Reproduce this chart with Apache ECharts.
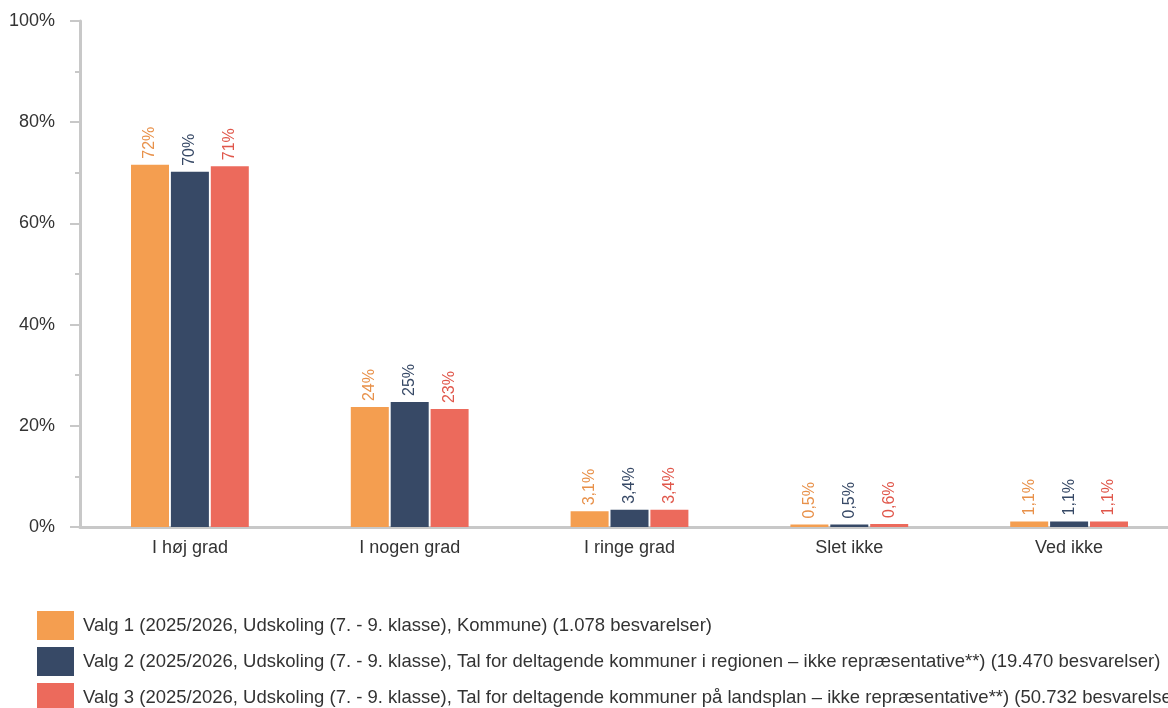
<!DOCTYPE html>
<html>
<head>
<meta charset="utf-8">
<script src="https://cdn.jsdelivr.net/npm/echarts@6/dist/echarts.min.js"></script>
<style>
  html, body { margin: 0; padding: 0; background: #fff; }
  #chart { width: 1168px; height: 708px; }
</style>
</head>
<body>
<div id="chart"></div>
<script>
// categories and series
const categories = ['I høj grad', 'I nogen grad', 'I ringe grad', 'Slet ikke', 'Ved ikke']
const seriesNames = [
  'Valg 1 (2025/2026, Udskoling (7. - 9. klasse), Kommune) (1.078 besvarelser)',
  'Valg 2 (2025/2026, Udskoling (7. - 9. klasse), Tal for deltagende kommuner i regionen – ikke repræsentative**) (19.470 besvarelser)',
  'Valg 3 (2025/2026, Udskoling (7. - 9. klasse), Tal for deltagende kommuner på landsplan – ikke repræsentative**) (50.732 besvarelser)'
]
const valg1 = [71.6, 23.7, 3.1, 0.5, 1.1]
const valg2 = [70.2, 24.7, 3.4, 0.5, 1.1]
const valg3 = [71.3, 23.3, 3.4, 0.6, 1.1]
const yTicks = [0, 20, 40, 60, 80, 100]

const colors = ['#f49e50', '#374966', '#ec6a5c']
const labelColors = ['#e8914a', '#374966', '#e0574b']

const fmt = v => v >= 10 ? Math.round(v) + '%' : v.toFixed(1).replace('.', ',') + '%'

const chart = echarts.init(document.getElementById('chart'))

const option = {
  animation: false,
  textStyle: { fontFamily: 'Liberation Sans, Arial, sans-serif' },
  // plot area runs past the right edge, as in the original
  grid: { left: 80, right: -11, top: 21, bottom: 181, containLabel: false, outerBoundsMode: 'none' },
  legend: {
    orient: 'vertical',
    left: 32,
    top: 606,
    height: 150,
    itemWidth: 37,
    itemHeight: 29,
    itemGap: 7,
    icon: 'rect',
    data: seriesNames,
    textStyle: { fontSize: 18.5, color: '#333', padding: [0, 0, 0, 4] }
  },
  xAxis: {
    type: 'category',
    data: categories,
    axisLine: { lineStyle: { color: '#c8c8c8', width: 3 } },
    axisTick: { show: false },
    axisLabel: { fontSize: 18, color: '#333', margin: 12 }
  },
  yAxis: {
    type: 'value',
    min: yTicks[0],
    max: yTicks[yTicks.length - 1],
    interval: 20,
    axisLine: { show: true, lineStyle: { color: '#c8c8c8', width: 3 } },
    axisTick: { show: true, length: 10, lineStyle: { color: '#c8c8c8', width: 2 } },
    minorTick: { show: true, splitNumber: 2, length: 5, lineStyle: { color: '#c8c8c8', width: 2 } },
    splitLine: { show: false },
    axisLabel: { fontSize: 18, color: '#333', margin: 25, formatter: '{value}%' }
  },
  series: [valg1, valg2, valg3].map((data, i) => ({
    name: seriesNames[i],
    type: 'bar',
    data: data,
    barWidth: 38,
    barGap: '5%',
    itemStyle: { color: colors[i] },
    label: {
      show: true,
      position: 'top',
      rotate: 90,
      align: 'left',
      verticalAlign: 'middle',
      distance: 6,
      fontSize: 16,
      color: labelColors[i],
      formatter: p => fmt(p.value)
    }
  }))
}

chart.setOption(option)
</script>
</body>
</html>
